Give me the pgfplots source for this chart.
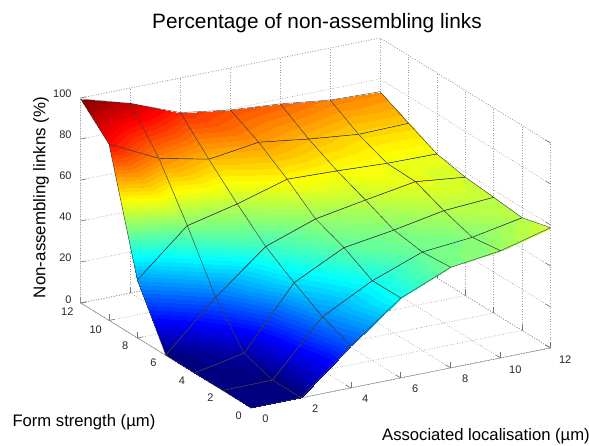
\documentclass[border=0pt]{standalone}
\usepackage{fontspec}
\setmainfont{Liberation Sans}
\usepackage{pgfplots}
\usepackage{pgfplotstable}
\pgfplotsset{compat=1.18}
\pgfplotstableread{
x y z
0 12 99.5
2 12 92.5
4 12 83.1
6 12 79.5
8 12 77.6
10 12 74.6
12 12 73.8
0 10 86.0
2 10 74.2
4 10 68.9
6 10 72.3
8 10 69.0
10 10 66.4
12 10 66.9
0 8 28.3
2 8 49.9
4 8 55.6
6 8 62.8
8 8 62.0
10 8 60.8
12 8 60.5
0 6 0.2
2 6 23.5
4 6 43.4
6 6 52.0
8 6 56.3
10 6 60.4
12 6 57.7
0 4 0
2 4 4.7
4 4 34.3
6 4 46.5
8 4 50.2
10 4 54.8
12 4 56.4
0 2 0
2 2 0.2
4 2 26.2
6 2 38.9
8 2 48.0
10 2 50.3
12 2 55.0
0 0 0
2 0 0.1
4 0 20.6
6 0 39.0
8 0 49.1
10 0 52.3
12 0 58.7
}\surfdata
\definecolor{axgray}{gray}{0.45}
\definecolor{gridgray}{gray}{0.62}
\begin{document}
\begin{tikzpicture}[x=1pt,y=1pt]
\useasboundingbox (0,0) rectangle (589,446);
\begin{axis}[
  at={(251pt,38pt)}, anchor=origin,
  x={(24.96pt,5pt)}, y={(-14.2pt,8.75pt)}, z={(0pt,2.05pt)},
  xmin=0,xmax=12,ymin=0,ymax=12,zmin=0,zmax=100,
  xtick={0,2,...,12}, ytick={0,2,...,12}, ztick={0,20,...,100},
  xtick pos=lower, ytick pos=lower, ztick pos=lower,
  grid=major,
  grid style={dash pattern=on 0.8pt off 1.8pt,draw=gridgray,line width=0.6pt},
  axis line style={dash pattern=on 0.8pt off 1.8pt,draw=gridgray,line width=0.6pt},
  tick style={draw=axgray,line width=0.6pt,solid},
  major tick length=6pt,
  tick label style={font=\fontsize{11}{13}\selectfont,text=black!85},
  xticklabel style={xshift=10pt,yshift=-3pt},
  yticklabel style={xshift=-6pt},
  zticklabel style={xshift=-5.5pt,yshift=2.5pt},
  /pgf/number format/assume math mode=true,
  colormap/jet,
  colormap={jet64}{samples of colormap=(64 of jet)},
  colormap access=piecewise constant,
  point meta min=0, point meta max=100,
  every axis title shift=0pt,
  title={Percentage of non-assembling links},
  title style={at={(axis cs:21.03,32.32,0)},anchor=center,yshift=-3pt,font=\fontsize{20.8}{24}\selectfont},
  xlabel={Associated localisation (µm)},
  xlabel style={at={(axis cs:5.55,-6.37,0)},anchor=center,xshift=6pt,font=\fontsize{16.65}{20}\selectfont},
  ylabel={Form strength (µm)},
  ylabel style={at={(axis cs:-5.77,1.695,0)},anchor=center,xshift=1pt,rotate=0,font=\fontsize{16.65}{20}\selectfont},
  zlabel={Non-assembling linkns (\%)},
  zlabel style={at={(axis cs:3.98,21.78,0)},anchor=center,font=\fontsize{16.9}{20}\selectfont},
]
\draw[draw=axgray,line width=0.6pt] (axis cs:0,12,0)--(axis cs:0,0,0)--(axis cs:12,0,0);
\draw[draw=gray!60,line width=1.3pt] (axis cs:0,12,0)--(axis cs:0,12,100);
\addplot3[surf,shader=faceted interp,faceted color=black!75,line width=0.45pt,mesh/rows=7,mesh/cols=7,z buffer=auto,point meta=z]
  table[x=x,y=y,z=z] {\surfdata};
\end{axis}
\end{tikzpicture}
\end{document}
